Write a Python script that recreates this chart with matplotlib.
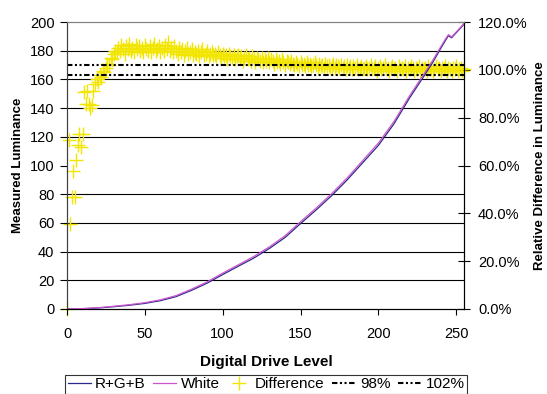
import numpy as np
import matplotlib
matplotlib.use("Agg")
import matplotlib.pyplot as plt
from matplotlib.ticker import MultipleLocator, StrMethodFormatter
from matplotlib.lines import Line2D

plt.rcParams['font.family'] = ['Liberation Sans', 'DejaVu Sans']

# curve samples (drive level -> measured luminance)
curve_levels = [0, 10, 20, 30, 40, 50, 60, 70, 80, 90, 100, 110, 120, 130, 140,
                150, 160, 170, 180, 190, 200, 210, 220, 230, 235, 240, 243,
                245, 247, 250, 255]
rgb_sum = [0, 0.2, 0.7, 1.6, 2.6, 3.9, 5.8, 8.6, 13.0, 18.0, 24.0, 29.8, 35.5,
           42.2, 49.8, 59.5, 69.0, 79.0, 90.0, 102.0, 114.0, 129.0, 147.0,
           163.5, 172.0, 181.5, 187.0, 190.5, 189.0, 192.5, 198.5]
white = [0, 0.3, 0.9, 1.9, 3.0, 4.4, 6.4, 9.3, 13.8, 18.9, 25.0, 30.8, 36.6,
         43.3, 51.0, 60.8, 70.3, 80.4, 91.4, 103.5, 115.6, 130.6, 148.5,
         165.0, 173.4, 182.6, 188.0, 191.2, 189.6, 193.0, 199.0]

# relative difference (%) for every drive level 0..255
diff_levels = list(range(256))
difference = [
    0.0, 70.8, 35.4, 46.8, 57.6, 46.8, 62.4, 68.4, 73.2, 67.8, 73.2, 90.6, 85.8, 91.2, 85.8, 84.0,
    85.2, 91.2, 94.2, 96.0, 94.8, 97.8, 97.2, 99.6, 99.0, 100.8, 102.6, 102.0, 105.0, 104.4, 106.8, 108.0,
    107.4, 109.2, 108.0, 110.4, 108.6, 106.8, 109.8, 108.6, 111.0, 108.0, 109.2, 107.4, 110.4, 108.6, 109.8, 108.0,
    109.2, 107.4, 110.4, 108.6, 108.0, 109.8, 107.4, 109.2, 111.0, 108.0, 108.6, 109.8, 107.4, 109.2, 108.0, 110.4,
    108.6, 111.6, 108.0, 109.2, 107.4, 109.8, 108.0, 106.8, 109.2, 107.4, 108.6, 106.2, 108.0, 109.2, 106.8, 107.4,
    108.6, 106.2, 107.4, 106.8, 108.0, 105.6, 107.4, 108.6, 106.2, 106.8, 108.0, 105.6, 106.8, 107.4, 106.2, 106.8,
    105.6, 107.4, 106.2, 105.0, 106.8, 105.6, 106.2, 104.4, 106.8, 105.6, 105.0, 106.2, 104.4, 105.6, 106.2, 105.0,
    105.6, 103.8, 105.0, 106.2, 104.4, 105.0, 103.8, 105.6, 104.4, 103.2, 105.0, 104.4, 103.8, 105.0, 103.2, 104.4,
    103.8, 105.0, 103.2, 104.4, 103.8, 102.6, 104.4, 103.2, 103.8, 102.6, 104.4, 103.2, 102.0, 103.8, 103.2, 102.6,
    103.8, 102.6, 102.0, 103.2, 102.6, 101.4, 103.2, 102.0, 102.6, 101.4, 103.2, 102.0, 102.6, 101.4, 102.0, 103.2,
    102.0, 100.8, 102.6, 101.4, 102.0, 100.8, 102.6, 101.4, 102.0, 100.8, 101.4, 102.6, 100.8, 102.0, 101.4, 100.8,
    102.0, 100.8, 101.4, 100.2, 102.0, 100.8, 101.4, 100.2, 101.4, 100.8, 102.0, 100.2, 100.8, 101.4, 100.2, 100.8,
    101.4, 100.2, 100.8, 102.0, 100.2, 100.8, 101.4, 99.6, 100.8, 101.4, 100.2, 100.8, 102.0, 100.2, 100.8, 99.6,
    100.8, 101.4, 100.2, 100.8, 99.6, 101.4, 100.2, 100.8, 100.2, 101.4, 99.6, 100.8, 100.2, 101.4, 100.8, 99.6,
    100.8, 100.2, 101.4, 99.6, 100.8, 100.2, 100.8, 99.6, 101.4, 100.2, 100.8, 99.6, 100.2, 101.4, 100.2, 100.8,
    99.6, 100.8, 100.2, 101.4, 99.6, 100.8, 100.2, 99.6, 100.8, 100.2, 101.4, 99.6, 100.2, 100.8, 99.6, 100.2,
]

# tolerance lines (%)
band_x = [0, 255]
low_pct = [98, 98]
high_pct = [102, 102]

dash_dot_dot = (0, (2.6, 1.2, 1.0, 1.2, 1.0, 1.2))
yellow = '#f2e600'

fig = plt.figure(figsize=(5.47, 3.94), dpi=100)
ax = fig.add_axes([67 / 547, 1 - 309 / 394, 397 / 547, 287 / 394])
ax2 = ax.twinx()

# left axes drawn above the secondary one, so the curves sit on top
ax.set_zorder(ax2.get_zorder() + 1)
ax.patch.set_visible(False)
ax2.set_facecolor('#c0c0c0')

# secondary axis: markers + tolerance lines
ax2.plot(diff_levels, difference, linestyle='none', marker='+',
         markersize=10, markeredgewidth=1.0, color=yellow,
         clip_on=False, zorder=2)
ax2.plot(band_x, low_pct, color='black', lw=1.5, linestyle=dash_dot_dot, zorder=3)
ax2.plot(band_x, high_pct, color='black', lw=1.5, linestyle=dash_dot_dot, zorder=3)

# primary axis: luminance curves
ax.plot(curve_levels, rgb_sum, color='#2a2a8a', lw=0.9)
ax.plot(curve_levels, white, color='#cc55cc', lw=0.9)

ax.set_xlim(0, 255)
ax.set_ylim(0, 200)
ax2.set_ylim(0, 120)

ax.xaxis.set_major_locator(MultipleLocator(50))
ax.yaxis.set_major_locator(MultipleLocator(20))
ax2.yaxis.set_major_locator(MultipleLocator(20))
ax2.yaxis.set_major_formatter(StrMethodFormatter('{x:.1f}%'))

# horizontal grid on the back axes, at every 20 luminance units
ax2.yaxis.set_minor_locator(MultipleLocator(12))
ax2.grid(which='minor', axis='y', color='black', lw=0.8)
ax2.tick_params(which='minor', length=0)
ax2.set_axisbelow(True)

ax.tick_params(axis='x', direction='out', length=4, pad=9, labelsize=10.5)
ax.tick_params(axis='y', direction='out', length=5, pad=4, labelsize=10.5)
ax2.tick_params(axis='y', direction='inout', length=8, pad=6, labelsize=10.5)

for a in (ax, ax2):
    a.spines['top'].set_color('#808080')
    a.spines['left'].set_color('#404040')
    a.spines['bottom'].set_color('black')
    a.spines['right'].set_color('black')

fig.text(266 / 547, 1 - 362 / 394, 'Digital Drive Level', ha='center',
         va='center', fontsize=11, fontweight='bold')
fig.text(18 / 547, 1 - 165.5 / 394, 'Measured Luminance', ha='center',
         va='center', rotation=90, fontsize=9.5, fontweight='bold')
fig.text(540 / 547, 1 - 165.5 / 394, 'Relative Difference in Luminance',
         ha='center', va='center', rotation=90, fontsize=9.5, fontweight='bold')

handles = [
    Line2D([], [], color='#2a2a8a', lw=0.9),
    Line2D([], [], color='#cc55cc', lw=0.9),
    Line2D([], [], linestyle='none', marker='+', markersize=10,
           markeredgewidth=1.0, color=yellow),
    Line2D([], [], color='black', lw=1.5, linestyle=dash_dot_dot),
    Line2D([], [], color='black', lw=1.5, linestyle=dash_dot_dot),
]
labels = ['R+G+B', 'White', 'Difference', '98%', '102%']
leg = fig.legend(handles, labels, loc='upper center',
                 bbox_to_anchor=(266 / 547, 1 - 375 / 394), ncol=5,
                 fontsize=11, frameon=True, fancybox=False,
                 handlelength=1.5, handletextpad=0.3, columnspacing=0.5,
                 borderpad=0.15, borderaxespad=0)
leg.get_frame().set_edgecolor('black')
leg.get_frame().set_linewidth(0.8)

fig.savefig('out.png', dpi=100)
